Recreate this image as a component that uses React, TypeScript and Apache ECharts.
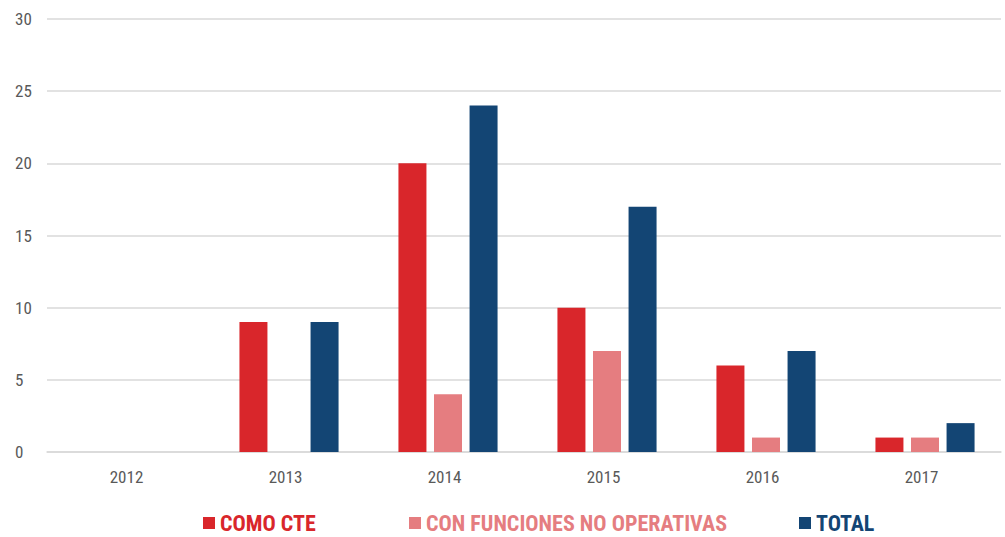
import React, { useEffect, useRef } from "react";
import * as echarts from "echarts";

const years = ["2012", "2013", "2014", "2015", "2016", "2017"];
const comoCte = [0, 9, 20, 10, 6, 1];
const conFunciones = [0, 0, 4, 7, 1, 1];
const total = [0, 9, 24, 17, 7, 2];
const seriesNames = ["COMO CTE", "CON FUNCIONES NO OPERATIVAS", "TOTAL"];
const colors = ["#d9262b", "#e57d80", "#134574"];
const legendLefts = [198, 404, 794];

const FONT = "'Roboto Condensed', 'Liberation Sans Narrow', 'DejaVu Sans Condensed', 'Open Sans', sans-serif";

export default function App() {
  const ref = useRef<HTMLDivElement>(null);
  useEffect(() => {
    if (!ref.current) return;
    const chart = echarts.init(ref.current, undefined, { renderer: "svg" });
    const datas = [comoCte, conFunciones, total];
    chart.setOption({
      animation: false,
      textStyle: { fontFamily: FONT },
      grid: [
        { left: 47, right: 4, top: 19, bottom: 85, containLabel: false },
        { left: 50.5, right: 0.5, top: 19, bottom: 85, containLabel: false },
      ],
      legend: seriesNames.map((n, i) => ({
        data: [n],
        left: legendLefts[i],
        top: 507,
        itemWidth: 12,
        itemHeight: 12,
        icon: "rect",
        itemGap: 10,
        textStyle: { color: colors[i], fontSize: 22, fontWeight: "bold", fontFamily: FONT },
      })),
      xAxis: [
        {
          type: "category",
          data: years,
          gridIndex: 0,
          axisTick: { show: false },
          axisLine: { show: true, lineStyle: { color: "#d9d9d9", width: 1.5 } },
          axisLabel: { color: "#595959", fontSize: 17, margin: 16, fontFamily: FONT },
        },
        {
          type: "category",
          data: years,
          gridIndex: 1,
          show: false,
        },
      ],
      yAxis: [
        {
          type: "value",
          gridIndex: 0,
          min: 0,
          max: 30,
          interval: 5,
          axisLabel: { color: "#595959", fontSize: 17, margin: 32, align: "left", fontFamily: FONT },
          splitLine: { lineStyle: { color: "#d9d9d9", width: 1.5 } },
          axisLine: { show: false },
          axisTick: { show: false },
        },
        {
          type: "value",
          gridIndex: 1,
          min: 0,
          max: 30,
          interval: 5,
          show: false,
          splitLine: { show: false },
        },
      ],
      series: seriesNames.map((n, i) => ({
        name: n,
        type: "bar",
        xAxisIndex: 1,
        yAxisIndex: 1,
        data: datas[i],
        barWidth: 28,
        barGap: "27%",
        itemStyle: { color: colors[i] },
      })),
    });
    return () => chart.dispose();
  }, []);
  return (
    <div
      ref={ref}
      style={{ position: "fixed", left: 0, top: 0, width: 1005, height: 537, background: "#fff" }}
    />
  );
}
